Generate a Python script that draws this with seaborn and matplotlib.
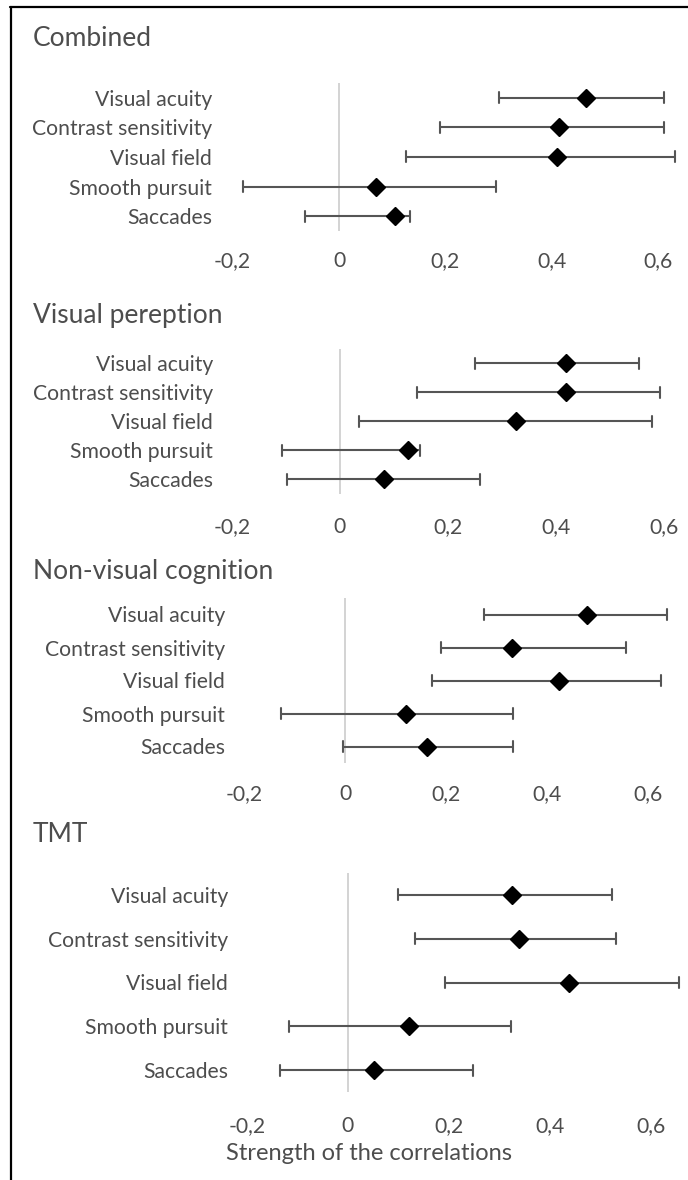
import numpy as np
import pandas as pd
import matplotlib
matplotlib.use("Agg")
import matplotlib.pyplot as plt
from matplotlib.lines import Line2D
from matplotlib.ticker import FixedLocator, FixedFormatter
import seaborn as sns

# ---------------- data ----------------
measures = ["Visual acuity", "Contrast sensitivity", "Visual field",
            "Smooth pursuit", "Saccades"]
panel_titles = ["Combined", "Visual pereption", "Non-visual cognition", "TMT"]

combined_r = [0.465, 0.414, 0.410, 0.070, 0.105]
combined_lo = [0.300, 0.189, 0.125, -0.180, -0.064]
combined_hi = [0.610, 0.610, 0.632, 0.296, 0.134]

perception_r = [0.418, 0.418, 0.325, 0.126, 0.081]
perception_lo = [0.250, 0.142, 0.036, -0.107, -0.098]
perception_hi = [0.554, 0.593, 0.577, 0.148, 0.260]

cognition_r = [0.480, 0.330, 0.423, 0.120, 0.163]
cognition_lo = [0.276, 0.190, 0.172, -0.127, -0.003]
cognition_hi = [0.637, 0.556, 0.625, 0.332, 0.332]

tmt_r = [0.325, 0.338, 0.437, 0.121, 0.051]
tmt_lo = [0.099, 0.133, 0.192, -0.116, -0.135]
tmt_hi = [0.522, 0.531, 0.655, 0.322, 0.247]

tick_values = [-0.2, 0.0, 0.2, 0.4, 0.6]
tick_labels = ["-0,2", "0", "0,2", "0,4", "0,6"]
x_label = "Strength of the correlations"

panels = [
    (combined_r, combined_lo, combined_hi),
    (perception_r, perception_lo, perception_hi),
    (cognition_r, cognition_lo, cognition_hi),
    (tmt_r, tmt_lo, tmt_hi),
]

# ---------------- layout (pixels) ----------------
W, H = 688, 1180
# left, right, top, bottom, zero_px, px_per_unit, title_y, tick_gap
layout = [
    (216, 685, 83, 231, 339, 532, 39, 29),
    (217, 685, 349, 494, 340, 540, 315, 32),
    (229, 685, 598, 763, 345, 505, 572, 30),
    (232, 685, 873, 1092, 348, 505, 835, 33),
]
text_color = "#4d4d4d"
err_color = "#555555"
font_family = ["Lato", "DejaVu Sans"]

sns.set_theme(style="white")
plt.rcParams["font.family"] = font_family

fig = plt.figure(figsize=(W / 100, H / 100), dpi=100)
fig.patch.set_facecolor("white")

for (r, lo, hi), title, (L, R, T, B, z, s, ty, gap) in zip(panels, panel_titles, layout):
    ax = fig.add_axes([L / W, 1 - B / H, (R - L) / W, (B - T) / H])
    rows = []
    for m, a, b, c in zip(measures, lo, r, hi):
        for v in (a, b, c):
            rows.append({"measure": m, "value": v})
    df = pd.DataFrame(rows)
    band = (B - T) / len(measures)
    ax.axvline(0, color="#c8c8c8", lw=1.1, zorder=0)
    sns.pointplot(data=df, x="value", y="measure", order=measures,
                  estimator=np.median,
                  errorbar=lambda v: (np.min(v), np.max(v)),
                  markers="D", linestyles="none", color="black",
                  markersize=9, markeredgewidth=1.0,
                  capsize=11 / band,
                  err_kws=dict(color=err_color, linewidth=1.5),
                  ax=ax)
    for ln in ax.lines:
        if ln.get_marker() == "D":
            ln.set_zorder(5)
    ax.set_xlim((L - z) / s, (R - z) / s)
    ax.set_ylim(len(measures) - 0.5, -0.5)
    ax.xaxis.set_major_locator(FixedLocator(tick_values))
    ax.xaxis.set_major_formatter(FixedFormatter(tick_labels))
    ax.set_xlabel("")
    ax.set_ylabel("")
    for sp in ax.spines.values():
        sp.set_visible(False)
    ax.tick_params(axis="both", length=0, labelsize=15.2, labelcolor=text_color)
    ax.tick_params(axis="y", pad=3)
    ax.tick_params(axis="x", pad=(gap - 9) / 1.389)
    ax.patch.set_alpha(0)
    ax.grid(False)
    fig.text(33 / W, 1 - ty / H, title, ha="left", va="center",
             fontsize=19, color=text_color)

fig.text(369 / W, 1 - 1153 / H, x_label, ha="center", va="center",
         fontsize=17, color=text_color)

# outer frame (left and top edges)
fig.add_artist(Line2D([11 / W, 11 / W], [0, 1 - 7 / H], transform=fig.transFigure,
                      color="black", lw=1.6))
fig.add_artist(Line2D([10 / W, 1], [1 - 7 / H, 1 - 7 / H], transform=fig.transFigure,
                      color="black", lw=1.6))

fig.savefig("out.png", dpi=100)
